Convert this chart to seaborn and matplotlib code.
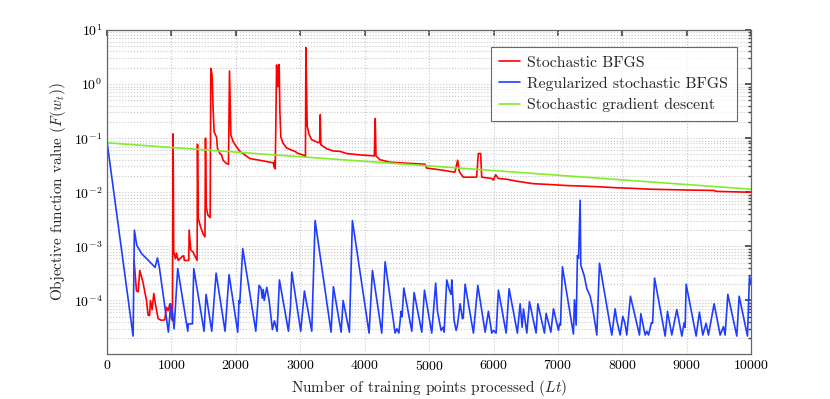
import matplotlib
matplotlib.use("Agg")
import numpy as np
import pandas as pd
import seaborn as sns
import matplotlib.pyplot as plt
from matplotlib.ticker import LogLocator, MultipleLocator, NullFormatter

# --- data ---
sgd_x = [0, 2500, 5000, 7500, 10000]
sgd_y = [0.082, 0.050, 0.0307, 0.0187, 0.0114]

bfgs_x = [419, 457, 483, 508, 560, 612, 638, 660, 674, 700, 725, 757, 793, 845, 896,
          922, 948, 974, 1000, 1015, 1025, 1035, 1062, 1078, 1104, 1165, 1190, 1200,
          1269, 1274, 1300, 1336, 1398, 1404, 1414, 1451, 1491, 1520, 1528, 1540,
          1565, 1600, 1611, 1630, 1646, 1662, 1699, 1715, 1751, 1777, 1802, 1854,
          1885, 1901, 1922, 1958, 2010, 2062, 2139, 2217, 2372, 2528, 2580, 2596,
          2603, 2611, 2632, 2652, 2672, 2683, 2698, 2734, 2787, 2864, 2916, 2967,
          3019, 3060, 3080, 3087, 3107, 3133, 3175, 3227, 3279, 3300, 3309, 3320,
          3331, 3408, 3511, 3615, 3719, 3926, 4133, 4150, 4163, 4175, 4236, 4392,
          4547, 4935, 4961, 5168, 5401, 5443, 5469, 5531, 5738, 5764, 5800, 5816,
          5971, 5997, 6034, 6075, 6205, 6360, 6618, 6877, 7136, 7395, 7654, 7913,
          8172, 8431, 9000, 9430, 9450, 10000]
bfgs_y = [5.5e-4, 1.5e-4, 1.45e-4, 3.6e-4, 2.1e-4, 1.0e-4, 5.3e-5, 5.3e-5, 1.0e-4,
          6.8e-5, 1.35e-4, 7.8e-5, 4.6e-5, 4.3e-5, 4.4e-5, 7.5e-5, 6.5e-5, 8.7e-5,
          4.6e-5, 4.3e-5, 0.12, 8.0e-4, 5.9e-4, 7.5e-4, 5.5e-4, 6.5e-4, 6.7e-4,
          5.5e-4, 5.5e-4, 2.0e-3, 8.6e-4, 7.8e-4, 5.5e-4, 0.077, 3.4e-3, 2.3e-3,
          1.7e-3, 1.5e-3, 0.10, 5.3e-3, 3.8e-3, 3.4e-3, 1.95, 1.5, 0.355, 0.13,
          0.105, 0.064, 0.052, 0.049, 0.039, 0.034, 0.033, 1.74, 0.114, 0.086,
          0.069, 0.057, 0.049, 0.042, 0.039, 0.036, 0.035, 0.029, 0.038, 0.027,
          2.25, 0.89, 2.3, 0.31, 0.105, 0.080, 0.066, 0.060, 0.057, 0.052, 0.050,
          0.048, 0.045, 4.7, 0.17, 0.12, 0.094, 0.088, 0.083, 0.082, 0.27, 0.075,
          0.074, 0.064, 0.058, 0.057, 0.052, 0.049, 0.047, 0.047, 0.23, 0.047,
          0.040, 0.036, 0.035, 0.033, 0.028, 0.026, 0.0235, 0.039, 0.024, 0.019,
          0.019, 0.052, 0.052, 0.019, 0.018, 0.0168, 0.021, 0.018, 0.0174, 0.016,
          0.0144, 0.0139, 0.0133, 0.013, 0.0126, 0.0121, 0.0118, 0.0114, 0.0110,
          0.0108, 0.0104, 0.0100]

reg_x = [0, 404, 424, 461, 538, 642, 745, 782, 812, 952, 989, 1020, 1040, 1097, 1253,
         1262, 1325, 1346, 1506, 1537, 1625, 1693, 1832, 1894, 2029, 2050, 2060, 2107,
         2309, 2360, 2390, 2410, 2425, 2440, 2480, 2516, 2567, 2598, 2640, 2676, 2816,
         2847, 2868, 3007, 3064, 3178, 3230, 3478, 3514, 3634, 3665, 3762, 3809, 4068,
         4120, 4265, 4317, 4472, 4500, 4530, 4565, 4580, 4607, 4731, 4767, 4886, 4928,
         5041, 5102, 5130, 5186, 5217, 5233, 5274, 5316, 5340, 5352, 5388, 5419, 5440,
         5481, 5518, 5530, 5559, 5688, 5756, 5870, 5921, 5973, 6000, 6040, 6076, 6196,
         6242, 6371, 6413, 6444, 6465, 6517, 6558, 6661, 6688, 6791, 6817, 6890, 6931,
         7008, 7024, 7040, 7070, 7241, 7257, 7283, 7303, 7320, 7345, 7355, 7407, 7449,
         7500, 7536, 7578, 7604, 7645, 7836, 7888, 7914, 7966, 8007, 8040, 8069, 8126,
         8266, 8287, 8354, 8380, 8406, 8453, 8470, 8500, 8665, 8701, 8768, 8846, 8924,
         8960, 8975, 8991, 9146, 9197, 9249, 9301, 9337, 9425, 9519, 9570, 9596, 9638,
         9777, 9814, 9943, 9974, 10000]
reg_y = [0.085, 2.2e-5, 2.0e-3, 1.05e-3, 7.3e-4, 5.5e-4, 4.1e-4, 6.1e-4, 4.1e-4,
         2.6e-5, 8.7e-5, 5.3e-5, 3.0e-5, 3.9e-4, 2.7e-5, 3.7e-5, 3.7e-5, 3.9e-4,
         2.7e-5, 1.3e-4, 2.7e-5, 3.2e-4, 2.7e-5, 3.0e-4, 2.6e-5, 1.0e-4, 9.0e-5,
         9.1e-4, 2.7e-5, 1.9e-4, 1.7e-4, 1.1e-4, 1.6e-4, 1.0e-4, 1.75e-4, 1.0e-4,
         2.9e-5, 4.2e-5, 2.7e-5, 2.4e-4, 2.7e-5, 7.5e-5, 3.35e-4, 2.7e-5, 1.5e-4,
         2.7e-5, 3.0e-3, 2.6e-5, 1.8e-4, 2.6e-5, 1.0e-4, 2.6e-5, 3.0e-3, 2.5e-5,
         3.6e-4, 2.5e-5, 5.2e-4, 2.5e-5, 3.0e-5, 2.5e-5, 6.3e-5, 5.0e-5, 1.7e-4,
         2.7e-5, 1.4e-4, 2.6e-5, 1.55e-4, 2.5e-5, 2.1e-4, 6.3e-5, 2.8e-5, 3.2e-5,
         2.6e-5, 2.4e-4, 1.55e-4, 1.3e-4, 2.4e-4, 4.3e-5, 2.8e-5, 3.5e-5, 8.7e-5,
         4.6e-5, 4.8e-5, 2.0e-4, 2.5e-5, 1.9e-4, 2.6e-5, 6.3e-5, 2.5e-5, 2.8e-5,
         2.5e-5, 1.55e-4, 2.5e-5, 1.65e-4, 2.5e-5, 8.7e-5, 3.2e-5, 7.0e-5, 2.5e-5,
         9.5e-5, 2.5e-5, 8.7e-5, 2.5e-5, 5.8e-5, 2.6e-5, 7.0e-5, 2.8e-5, 3.7e-5,
         3.5e-5, 4.2e-4, 2.4e-5, 1.03e-4, 3.5e-5, 6.8e-4, 6.0e-4, 7.1e-3, 4.5e-4,
         2.9e-4, 1.65e-4, 1.2e-4, 7.5e-5, 3.7e-5, 2.3e-5, 4.9e-4, 2.3e-5, 7.0e-5,
         4.3e-5, 2.3e-5, 5.1e-5, 3.8e-5, 2.3e-5, 1.2e-4, 2.3e-5, 5.7e-5, 2.3e-5,
         2.7e-5, 2.3e-5, 3.9e-5, 3.8e-5, 2.6e-4, 2.2e-5, 6.3e-5, 2.3e-5, 6.8e-5,
         2.2e-5, 3.9e-5, 3.2e-5, 2.0e-4, 2.2e-5, 6.1e-5, 2.3e-5, 3.8e-5, 2.3e-5,
         8.7e-5, 2.3e-5, 3.3e-5, 2.3e-5, 1.3e-4, 2.2e-5, 1.2e-4, 2.2e-5, 2.8e-4,
         2.0e-4]

sns.set_theme(style="white")
plt.rcParams['font.family'] = ['cmr10', 'DejaVu Serif']
plt.rcParams['mathtext.fontset'] = 'cm'
plt.rcParams['axes.formatter.use_mathtext'] = True

fig = plt.figure(figsize=(8.3, 3.99), dpi=100)
ax = fig.add_axes([0.129, 0.113, 0.776, 0.812])

sns.lineplot(x=bfgs_x, y=bfgs_y, ax=ax, color='#ff0000', lw=1.2,
             estimator=None, sort=False, label='Stochastic BFGS')
sns.lineplot(x=reg_x, y=reg_y, ax=ax, color='#1f3dff', lw=1.2,
             estimator=None, sort=False, label='Regularized stochastic BFGS')
sns.lineplot(x=sgd_x, y=sgd_y, ax=ax, color='#80ee2a', lw=1.2,
             estimator=None, sort=False, label='Stochastic gradient descent')

ax.set_yscale('log')
ax.set_xlim(0, 10000)
ax.set_ylim(1.03e-5, 10)
ax.xaxis.set_major_locator(MultipleLocator(1000))
ax.yaxis.set_major_locator(LogLocator(base=10, numticks=10))
ax.yaxis.set_minor_locator(LogLocator(base=10, subs=np.arange(2, 10), numticks=20))
ax.yaxis.set_minor_formatter(NullFormatter())

ax.grid(True, which='major', axis='both', color='#c8c8c8', ls=':', lw=0.8)
ax.grid(True, which='minor', axis='y', color='#c8c8c8', ls=':', lw=0.8)

ax.tick_params(which='both', direction='in', top=True, right=True, colors='#444444',
               labelcolor='black', labelsize=10)
ax.tick_params(which='major', length=4)
ax.tick_params(which='minor', length=2)
for s in ax.spines.values():
    s.set_color('#666666')
    s.set_linewidth(0.9)

ax.set_xlabel('Number of training points processed ($Lt$)', fontsize=11)
ax.set_ylabel('Objective function value ($F(w_t)$)', fontsize=11)

leg = ax.legend(loc='upper right', bbox_to_anchor=(0.978, 0.9475), fontsize=11.3,
                frameon=True, fancybox=False, edgecolor='#444444',
                borderaxespad=0, handlelength=1.3, handletextpad=0.5,
                borderpad=0.55, labelspacing=0.45)
leg.get_frame().set_linewidth(0.8)

fig.savefig('out.png', dpi=100)
